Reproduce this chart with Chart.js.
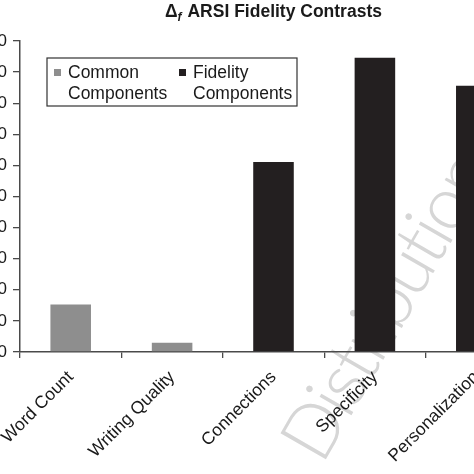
<!DOCTYPE html>
<html>
<head>
<meta charset="utf-8">
<script src="https://cdn.jsdelivr.net/npm/chart.js@4.4.1/dist/chart.umd.min.js"></script>
<style>
html, body { margin: 0; padding: 0; background: #fff; overflow: hidden; width: 474px; height: 474px }
#wrap { position: absolute; left: -40px; top: 0; width: 580px; height: 474px }
</style>
</head>
<body>
<div id="wrap"><canvas id="chart" width="580" height="474"></canvas></div>
<script>
const categories = ['Word Count', 'Writing Quality', 'Connections', 'Specificity', 'Personalization']
const commonValues = [0.153, 0.030, null, null, null]
const fidelityValues = [null, null, 0.611, 0.946, 0.856]
const seriesLabels = [['Common', 'Components'], ['Fidelity', 'Components']]
const seriesColors = ['#8e8e8e', '#231f20']
const yMin = 0
const yMax = 1
const yStep = 0.1
const titleRest = ' ARSI Fidelity Contrasts'
const watermarkText = 'Distribution'

const FONT = '"Liberation Sans", Arial, Helvetica, sans-serif'
const AXIS_COLOR = '#4a4a4a'

const watermarkPlugin = {
    id: 'watermark',
    beforeDraw(chart){
        const {ctx, chartArea} = chart
        ctx.save()
        ctx.translate(chartArea.left + 302, chartArea.bottom + 114)
        ctx.rotate(-60 * Math.PI / 180)
        ctx.font = '300 74px Lato, "Open Sans", sans-serif'
        if('letterSpacing' in ctx){
            ctx.letterSpacing = '-3px'
        }
        ctx.fillStyle = '#d6d6d6'
        ctx.textBaseline = 'alphabetic'
        ctx.textAlign = 'left'
        ctx.fillText(watermarkText, 0, 0)
        ctx.restore()
    }
}

const titlePlugin = {
    id: 'deltaTitle',
    afterDraw(chart){
        const {ctx, chartArea} = chart
        const bigFont = 'bold 17.5px ' + FONT
        const subFont = 'italic bold 12px ' + FONT
        ctx.save()
        ctx.fillStyle = '#1a1a1a'
        ctx.textBaseline = 'alphabetic'
        ctx.textAlign = 'left'
        ctx.font = bigFont
        const wDelta = ctx.measureText('\u0394').width
        const wRest = ctx.measureText(titleRest).width
        ctx.font = subFont
        const wSub = ctx.measureText('f').width + 1
        let x = (chartArea.left + chartArea.right) / 2 - (wDelta + wSub + wRest) / 2
        const base = 17
        ctx.font = bigFont
        ctx.fillText('\u0394', x, base)
        x += wDelta
        ctx.font = subFont
        ctx.fillText('f', x, base + 4)
        x += wSub
        ctx.font = bigFont
        ctx.fillText(titleRest, x, base)
        ctx.restore()
    }
}

const boxLegendPlugin = {
    id: 'boxLegend',
    afterDraw(chart){
        const {ctx, chartArea} = chart
        const left = chartArea.left + 27
        const top = chartArea.top + 17
        const width = 250
        const height = 48
        ctx.save()
        ctx.fillStyle = '#fff'
        ctx.fillRect(left, top, width, height)
        ctx.strokeStyle = '#333'
        ctx.lineWidth = 1.2
        ctx.strokeRect(left, top, width, height)
        ctx.font = '17.5px ' + FONT
        ctx.textBaseline = 'alphabetic'
        ctx.textAlign = 'left'
        chart.data.datasets.forEach((ds, i) => {
            const colX = left + 7 + i * 125
            ctx.fillStyle = ds.backgroundColor
            ctx.fillRect(colX, top + 11, 7, 7)
            ctx.fillStyle = '#1a1a1a'
            ds.label.forEach((line, j) => {
                ctx.fillText(line, colX + 14, top + 20 + j * 21)
            })
        })
        ctx.restore()
    }
}

new Chart(document.getElementById('chart'), {
    type: 'bar',
    data: {
        labels: categories,
        datasets: [
            {label: seriesLabels[0], data: commonValues, backgroundColor: seriesColors[0], grouped: false},
            {label: seriesLabels[1], data: fidelityValues, backgroundColor: seriesColors[1], grouped: false}
        ]
    },
    options: {
        responsive: false,
        animation: false,
        devicePixelRatio: 1,
        categoryPercentage: 1,
        barPercentage: 0.4,
        layout: {padding: {top: 41, right: 13, left: 0, bottom: 0}},
        plugins: {
            legend: {display: false},
            title: {display: false},
            tooltip: {enabled: false}
        },
        scales: {
            x: {
                afterFit(scale){ scale.height = 122 },
                grid: {drawOnChartArea: false, drawTicks: true, tickLength: 6, color: AXIS_COLOR, lineWidth: 1.3},
                border: {color: AXIS_COLOR, width: 1.5},
                ticks: {
                    maxRotation: 45,
                    minRotation: 45,
                    padding: 9,
                    color: '#1a1a1a',
                    font: {family: FONT, size: 17.5}
                }
            },
            y: {
                min: yMin,
                max: yMax,
                afterFit(scale){ scale.width = 60 },
                grid: {drawOnChartArea: false, drawTicks: true, tickLength: 7, color: AXIS_COLOR, lineWidth: 1.3},
                border: {color: AXIS_COLOR, width: 1.5},
                ticks: {
                    stepSize: yStep,
                    padding: 6,
                    color: '#1a1a1a',
                    font: {family: FONT, size: 17},
                    callback: v => Number(v).toFixed(2)
                }
            }
        }
    },
    plugins: [watermarkPlugin, titlePlugin, boxLegendPlugin]
})
</script>
</body>
</html>
